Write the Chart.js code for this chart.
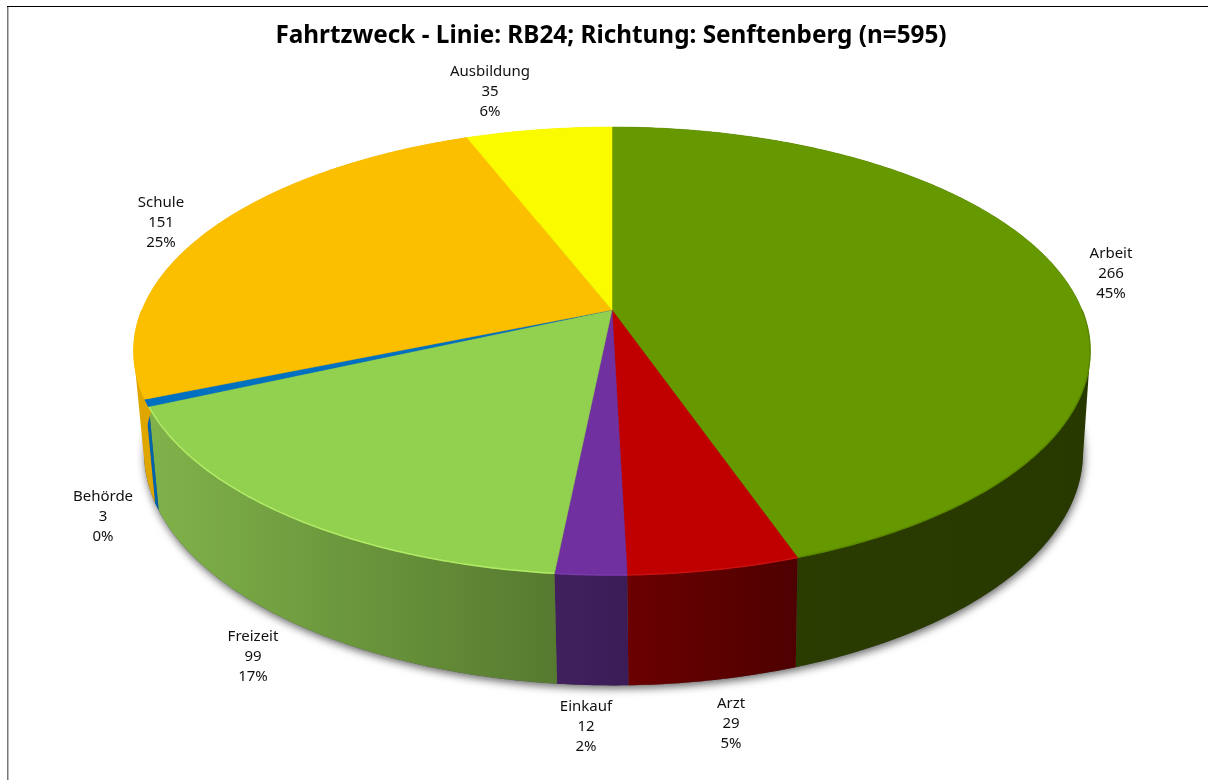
<!DOCTYPE html>
<html>
<head>
<meta charset="utf-8">
<title>Fahrtzweck</title>
<script src="https://cdn.jsdelivr.net/npm/chart.js@4"></script>
<style>
html,body{margin:0;padding:0;background:#fff;}
canvas{display:block;}
</style>
</head>
<body>
<canvas id="chart" width="1208" height="780"></canvas>
<script>
// Data
const categories = ["Arbeit", "Arzt", "Einkauf", "Freizeit", "Behörde", "Schule", "Ausbildung"];
const counts = [266, 29, 12, 99, 3, 151, 35];
const percentLabels = ["45%", "5%", "2%", "17%", "0%", "25%", "6%"];

// Styles
const topColors = ["#669900", "#C00000", "#7030A0", "#92D050", "#0070C0", "#FBBF00", "#FBFB00"];
const wallColors = [
    ["#2b3e00", "#283900"],
    ["#6b0000", "#4e0000"],
    ["#42205f", "#3b1c56"],
    ["#80b24a", "#567a2f"],
    ["#0064ad", "#0064ad"],
    ["#dfa600", "#dfa600"],
    ["#dddd00", "#dddd00"]
];
const rimColors = ["#5a8700", "#c81010", "#7a3aaa", "#b2ec66", "#0070C0", "#FBBF00", "#FBFB00"];

// Label centres (first line), same order as categories
const labelX = [1111, 731, 586, 253, 103, 161, 490];
const labelY = [254, 704, 707, 637, 497, 203, 72];

// Perspective of the disc, fitted on the picture
const view = {cx: 612, bottomX: 613.5, topY: 310, bottomY: 410, radius: 470, tilt: 216.5, bottomTilt: 225, bottomScale: 0.982, p: 0.183};

function project(angle, bottom) {
    const u = Math.cos(angle);
    const v = Math.sin(angle);
    const s = 1 / (1 - view.p * v);
    if (bottom) {
        return {x: view.bottomX + view.radius * view.bottomScale * u * s, y: view.bottomY + view.bottomTilt * v * s};
    }
    return {x: view.cx + view.radius * u * s, y: view.topY + view.tilt * v * s};
}

function rimPoints(start, end, bottom) {
    const pts = [];
    const steps = Math.max(2, Math.ceil((end - start) / 0.01));
    for (let i = 0; i <= steps; i++) {
        pts.push(project(start + (end - start) * i / steps, bottom));
    }
    return pts;
}

function tracePoints(ctx, pts, first) {
    pts.forEach((p, i) => {
        if (i === 0 && first) ctx.moveTo(p.x, p.y);
        else ctx.lineTo(p.x, p.y);
    });
}

const pie3d = {
    id: "pie3d",
    beforeDraw(chart) {
        const ctx = chart.ctx;
        ctx.save();
        ctx.fillStyle = "#fff";
        ctx.fillRect(0, 0, chart.width, chart.height);
        ctx.fillStyle = "#777";
        ctx.fillRect(7, 6, 1.5, chart.height - 6);
        ctx.fillStyle = "#000";
        ctx.fillRect(7, 6, chart.width - 7, 1);
        ctx.restore();
    },
    beforeDatasetsDraw(chart) {
        const ctx = chart.ctx;
        const arcs = chart.getDatasetMeta(0).data;
        ctx.save();

        // shadow below the disc
        ctx.save();
        ctx.shadowColor = "rgba(0,0,0,0.6)";
        ctx.shadowBlur = 9;
        ctx.shadowOffsetX = 1;
        ctx.shadowOffsetY = 3;
        ctx.fillStyle = "#555";
        ctx.beginPath();
        tracePoints(ctx, rimPoints(0, Math.PI * 2, true), true);
        ctx.closePath();
        ctx.fill();
        ctx.restore();

        // walls: all quads of a slice in one path, same winding, so the outline follows the silhouette
        arcs.forEach((arc, i) => {
            const top = rimPoints(arc.startAngle, arc.endAngle, false);
            const bottom = rimPoints(arc.startAngle, arc.endAngle, true);
            const xs = top.concat(bottom).map(p => p.x);
            const grad = ctx.createLinearGradient(Math.min(...xs), 0, Math.max(...xs), 0);
            grad.addColorStop(0, wallColors[i][0]);
            grad.addColorStop(1, wallColors[i][1]);
            ctx.fillStyle = grad;
            ctx.strokeStyle = grad;
            ctx.lineWidth = 0.5;
            ctx.beginPath();
            for (let k = 0; k < top.length - 1; k++) {
                const quad = [top[k], top[k + 1], bottom[k + 1], bottom[k]];
                let area = 0;
                quad.forEach((p, n) => {
                    const q = quad[(n + 1) % 4];
                    area += p.x * q.y - q.x * p.y;
                });
                if (area < 0) quad.reverse();
                tracePoints(ctx, quad, true);
                ctx.closePath();
            }
            ctx.fill();
        });

        // top faces
        arcs.forEach((arc, i) => {
            ctx.fillStyle = topColors[i];
            ctx.strokeStyle = topColors[i];
            ctx.lineWidth = 0.5;
            ctx.beginPath();
            ctx.moveTo(view.cx, view.topY);
            tracePoints(ctx, rimPoints(arc.startAngle, arc.endAngle, false), false);
            ctx.closePath();
            ctx.fill();
            ctx.stroke();
        });

        // small bevel on the front of the rim
        arcs.forEach((arc, i) => {
            const start = Math.max(arc.startAngle, 0);
            const end = Math.min(arc.endAngle, Math.PI);
            if (end <= start) return;
            ctx.strokeStyle = rimColors[i];
            ctx.lineWidth = 1.5;
            ctx.beginPath();
            tracePoints(ctx, rimPoints(start, end, false), true);
            ctx.stroke();
        });

        ctx.restore();
        return false;
    },
    afterDraw(chart) {
        const ctx = chart.ctx;
        ctx.save();
        ctx.font = "15px 'Noto Sans'";
        ctx.fillStyle = "#111";
        ctx.textAlign = "center";
        ctx.textBaseline = "middle";
        categories.forEach((name, i) => {
            ctx.fillText(name, labelX[i], labelY[i]);
            ctx.fillText(String(counts[i]), labelX[i], labelY[i] + 20);
            ctx.fillText(percentLabels[i], labelX[i], labelY[i] + 40);
        });
        ctx.restore();
    }
};

new Chart(document.getElementById("chart"), {
    type: "pie",
    data: {
        labels: categories,
        datasets: [{data: counts, backgroundColor: topColors}]
    },
    options: {
        responsive: false,
        animation: false,
        rotation: 0,
        layout: {padding: {left: 14}},
        plugins: {
            legend: {display: false},
            tooltip: {enabled: false},
            title: {
                display: true,
                text: "Fahrtzweck - Linie: RB24; Richtung: Senftenberg (n=595)",
                color: "#000",
                font: {family: "'Noto Sans'", size: 24.3, weight: "bold"},
                padding: {top: 21, bottom: 0}
            }
        }
    },
    plugins: [pie3d]
});
</script>
</body>
</html>
